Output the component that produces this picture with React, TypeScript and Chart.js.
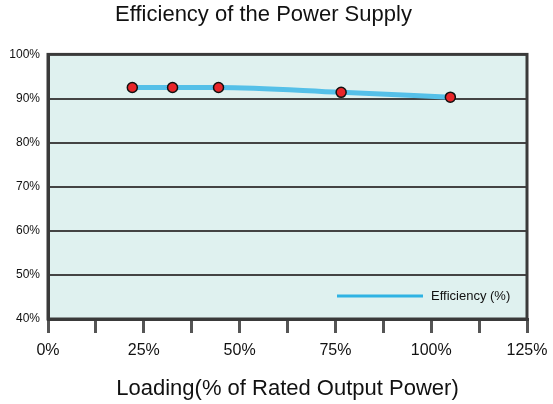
import React, { useEffect, useRef } from "react";
import { Chart, registerables } from "chart.js";

Chart.register(...registerables);

const loading = [22, 32.5, 44.5, 76.5, 105];
const efficiency = [92.5, 92.5, 92.5, 91.4, 90.3];
const seriesLabel = "Efficiency (%)";
const titleText = "Efficiency of the Power Supply";
const xTitle = "Loading(% of Rated Output Power)";
const xMin = 0, xMax = 125, xStep = 12.5;
const yMin = 40, yMax = 100, yStep = 10;

const FONT = "'Liberation Sans', Arial, Helvetica, sans-serif";
const DARK = "#3a3a3a";

const framePlugin = {
  id: "frame",
  beforeDraw(chart: any) {
    const { ctx, chartArea: a } = chart;
    ctx.save();
    ctx.fillStyle = "#dff1ef";
    ctx.fillRect(a.left, a.top, a.right - a.left, a.bottom - a.top);
    ctx.restore();
  },
  beforeDatasetsDraw(chart: any) {
    const { ctx, chartArea: a } = chart;
    ctx.save();
    ctx.strokeStyle = DARK;
    ctx.lineWidth = 3;
    ctx.strokeRect(a.left, a.top, a.right - a.left, a.bottom - a.top);
    ctx.restore();
  },
  afterDatasetsDraw(chart: any) {
    const { ctx, chartArea: a } = chart;
    const ds = chart.data.datasets[0];
    const y = a.bottom - 23;
    const x1 = a.right - 190;
    const x2 = x1 + 86;
    ctx.save();
    ctx.strokeStyle = "#2fb3e3";
    ctx.lineWidth = 3;
    ctx.beginPath();
    ctx.moveTo(x1, y);
    ctx.lineTo(x2, y);
    ctx.stroke();
    ctx.fillStyle = "#111";
    ctx.font = `13px ${FONT}`;
    ctx.textBaseline = "middle";
    ctx.textAlign = "left";
    ctx.fillText(ds.label, x2 + 8, y);
    ctx.restore();
  },
};

export default function App() {
  const ref = useRef<HTMLCanvasElement>(null);
  useEffect(() => {
    document.body.style.margin = "0";
    const chart = new Chart(ref.current!, {
      type: "line",
      data: {
        datasets: [
          {
            label: seriesLabel,
            data: loading.map((x, i) => ({ x, y: efficiency[i] })),
            borderColor: "#55c0e8",
            borderWidth: 5,
            tension: 0.4,
            cubicInterpolationMode: "monotone",
            pointRadius: 5,
            pointBackgroundColor: "#e8262a",
            pointBorderColor: "#111",
            pointBorderWidth: 1.5,
          },
        ],
      },
      options: {
        responsive: false,
        animation: false,
        layout: { padding: { left: 0, right: 26, top: 0, bottom: 0 } },
        plugins: {
          legend: { display: false },
          tooltip: { enabled: false },
          title: {
            display: true,
            text: titleText,
            color: "#111",
            font: { family: FONT, size: 22, weight: "normal" },
            padding: { top: 2, bottom: 26 },
          },
        },
        scales: {
          x: {
            type: "linear",
            min: xMin,
            max: xMax,
            afterFit(s: any) {
              s.height = 85;
              s.paddingLeft = 0;
              s.paddingRight = 0;
            },
            ticks: {
              stepSize: xStep,
              autoSkip: false,
              maxRotation: 0,
              padding: 8,
              color: "#111",
              font: { family: FONT, size: 16 },
              callback: (v: any) => (Number(v) % 25 === 0 ? `${v}%` : ""),
            },
            grid: {
              drawOnChartArea: false,
              drawTicks: true,
              tickLength: 14,
              color: "#555",
              lineWidth: 3,
            },
            border: { display: true, color: DARK, width: 3 },
            title: {
              display: true,
              text: xTitle,
              color: "#111",
              font: { family: FONT, size: 22 },
              padding: { top: 0, bottom: 2 },
            },
          },
          y: {
            min: yMin,
            max: yMax,
            afterFit(s: any) { s.width = 48; },
            ticks: {
              stepSize: yStep,
              padding: 8,
              color: "#111",
              font: { family: FONT, size: 12 },
              callback: (v: any) => `${v}%`,
            },
            grid: { color: "#444", lineWidth: 2, drawTicks: false },
            border: { display: true, color: DARK, width: 3 },
          },
        },
      },
      plugins: [framePlugin],
    } as any);
    return () => chart.destroy();
  }, []);
  return (
    <div style={{ width: 553, height: 404, background: "#fff" }}>
      <canvas ref={ref} width={553} height={404} />
    </div>
  );
}
